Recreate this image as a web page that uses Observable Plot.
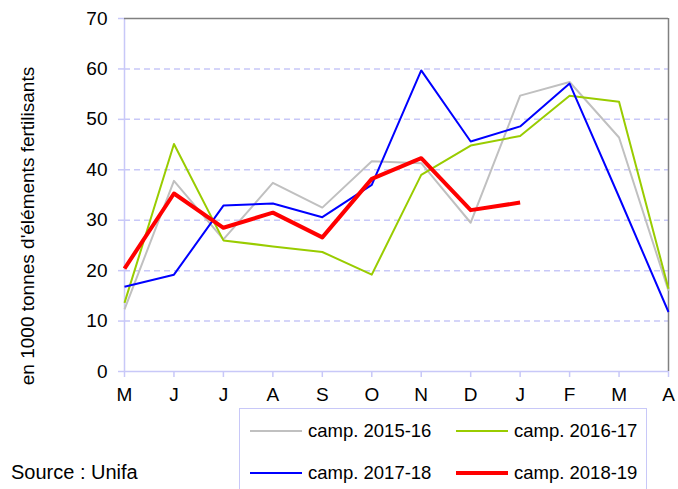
<!DOCTYPE html>
<html>
<head>
<meta charset="utf-8">
<script src="https://cdn.jsdelivr.net/npm/d3@7"></script>
<script src="https://cdn.jsdelivr.net/npm/@observablehq/plot@0.6"></script>
<style>
  html, body { margin: 0; padding: 0; background: #fff; overflow: hidden; }
  #wrap { position: relative; width: 678px; height: 489px; overflow: hidden; font-family: "Liberation Sans", Arial, sans-serif; }
  #chart { position: absolute; left: 0; top: 0; }
  #ylabel { position: absolute; left: 28px; top: 226px; transform: translate(-50%, -50%) rotate(-90deg); white-space: nowrap; font-size: 19px; color: #000; }
  #legend { position: absolute; left: 239px; top: 408px; width: 408px; height: 100px; border: 1.5px solid #c8c8f8; box-sizing: border-box; }
  .item { position: absolute; display: flex; align-items: center; font-size: 18.5px; color: #000; white-space: nowrap; }
  .swatch { width: 52px; margin-right: 6px; }
  #source { position: absolute; left: 11px; top: 461px; font-size: 20px; color: #000; white-space: nowrap; }
</style>
</head>
<body>
<div id="wrap">
  <div id="chart"></div>
  <div id="ylabel">en 1000 tonnes d'éléments fertilisants</div>
  <div id="legend"></div>
  <div id="source">Source : Unifa</div>
</div>
<script>
const months = ["M","J","J","A","S","O","N","D","J","F","M","A"];
const yTicks = [0, 10, 20, 30, 40, 50, 60, 70];
const seriesNames = ["camp. 2015-16", "camp. 2016-17", "camp. 2017-18", "camp. 2018-19"];
const seriesColors = ["#c0c0c0", "#99cc00", "#0000ff", "#ff0000"];
const seriesWidths = [2, 2, 2, 4];
const camp201516 = [12.3, 37.8, 26.2, 37.4, 32.5, 41.7, 41.3, 29.5, 54.7, 57.4, 46.4, 16.0];
const camp201617 = [13.6, 45.1, 26.0, 24.8, 23.7, 19.2, 39.0, 44.8, 46.7, 54.7, 53.5, 16.4];
const camp201718 = [16.8, 19.2, 32.9, 33.3, 30.6, 37.0, 59.7, 45.6, 48.6, 57.1, 34.6, 11.8];
const camp201819 = [20.4, 35.3, 28.5, 31.5, 26.6, 38.2, 42.3, 32.0, 33.5];

const allSeries = [camp201516, camp201617, camp201718, camp201819];
const lavender = "#c8c8f8";

const lineMarks = allSeries.map((vals, s) =>
  Plot.line(vals.map((v, i) => ({i, v})), {
    x: "i", y: "v",
    stroke: seriesColors[s], strokeWidth: seriesWidths[s],
    strokeLinejoin: "round", strokeLinecap: "butt"
  })
);

const chart = Plot.plot({
  width: 678,
  height: 489,
  marginLeft: 124,
  marginRight: 10,
  marginTop: 18,
  marginBottom: 118,
  style: { fontFamily: "'Liberation Sans', Arial, sans-serif", background: "#fff" },
  x: { type: "linear", domain: [0, 11] },
  y: { domain: [0, 70] },
  marks: [
    Plot.gridY(yTicks.filter(t => t > 0 && t < 70), { stroke: lavender, strokeOpacity: 1, strokeWidth: 1.5, strokeDasharray: "6,4" }),
    Plot.axisY(yTicks, { tickSize: 6, tickPadding: 11, stroke: lavender, strokeWidth: 1.5, fontSize: 19, fill: "#000", label: null }),
    Plot.axisX(d3.range(months.length), { tickSize: 6, tickPadding: 10, stroke: lavender, strokeWidth: 1.5, fontSize: 19, fill: "#000", tickFormat: i => months[i], label: null }),
    Plot.ruleX([0], { stroke: lavender, strokeWidth: 1.5 }),
    Plot.ruleY([0], { stroke: lavender, strokeWidth: 1.5 }),
    Plot.ruleY([70], { stroke: "#808080", strokeWidth: 1.5 }),
    Plot.ruleX([11], { stroke: "#808080", strokeWidth: 1.5 }),
    ...lineMarks
  ]
});
document.getElementById("chart").appendChild(chart);

// legend
const legend = document.getElementById("legend");
const positions = [[10, 22], [216, 22], [10, 64], [216, 64]];
seriesNames.forEach((name, s) => {
  const item = document.createElement("div");
  item.className = "item";
  item.style.left = positions[s][0] + "px";
  item.style.top = (positions[s][1] - 11) + "px";
  item.style.height = "22px";
  const sw = document.createElement("div");
  sw.className = "swatch";
  sw.style.borderTop = seriesWidths[s] + "px solid " + seriesColors[s];
  const label = document.createElement("span");
  label.textContent = name;
  item.appendChild(sw);
  item.appendChild(label);
  legend.appendChild(item);
});
</script>
</body>
</html>
